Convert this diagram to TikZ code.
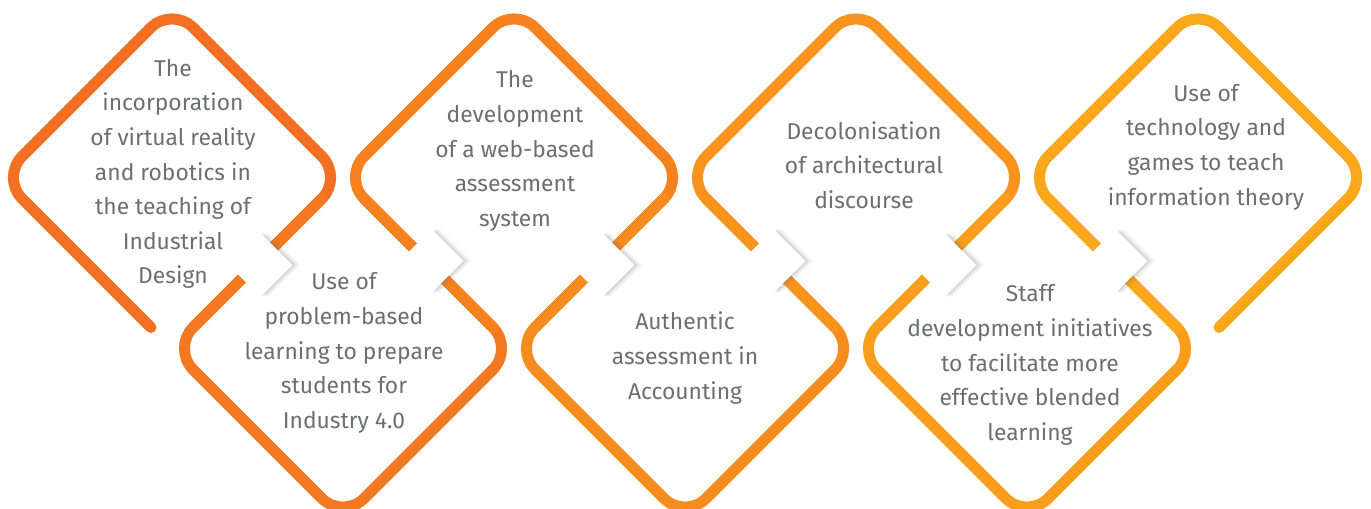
\documentclass[tikz,border=0pt]{standalone}
\usepackage{fontspec}
\setmainfont{Fira Sans}
\usetikzlibrary{positioning, shadows, shapes.geometric, calc}
\definecolor{leftorange}{HTML}{F26522}
\definecolor{rightorange}{HTML}{FBB11A}
\definecolor{topicgrey}{HTML}{6D6E71}
\colorlet{ring1}{rightorange!13!leftorange}
\colorlet{ring2}{rightorange!25!leftorange}
\colorlet{ring3}{rightorange!37!leftorange}
\colorlet{ring4}{rightorange!50!leftorange}
\colorlet{ring5}{rightorange!62!leftorange}
\colorlet{ring6}{rightorange!75!leftorange}
\colorlet{ring7}{rightorange!87!leftorange}
\newcommand{\TopRing}[2]{%
  \draw[ring, draw=#2] ($(#1)+(-21,150)$) -- ($(#1)+(-171,0)$) -- ($(#1)+(0,-171)$) -- ($(#1)+(171,0)$) -- ($(#1)+(21,150)$);}
\newcommand{\LowRing}[2]{%
  \draw[ring, draw=#2] ($(#1)+(21,-150)$) -- ($(#1)+(171,0)$) -- ($(#1)+(0,171)$) -- ($(#1)+(-171,0)$) -- ($(#1)+(-21,-150)$);}
\tikzset{
    ring/.style={line width=0.22cm, line cap=round, rounded corners=0.6cm},
    topic/.style={align=center, text=topicgrey, font=\fontsize{13}{19.7}\selectfont},
    link/.style={diamond, fill=white, minimum width=1.28cm, minimum height=1.28cm, inner sep=0pt,
        drop shadow={shadow xshift=0.16cm, shadow yshift=0cm, opacity=0.06, fill=black!60},
        drop shadow={shadow xshift=0.11cm, shadow yshift=0cm, opacity=0.09, fill=black!60},
        drop shadow={shadow xshift=0.06cm, shadow yshift=0cm, opacity=0.12, fill=black!60}},
}

\begin{document}
\begin{tikzpicture}[x=0.02cm, y=-0.02cm]
    \useasboundingbox (0,0) rectangle (1371,509);
    \clip (0,0) rectangle (1371,509);

    \foreach \n/\cx/\cy in {1/172/177.5, 2/343/348.5, 3/514/177.5, 4/685/348.5,
                            5/856/177.5, 6/1027/348.5, 7/1198/177.5}
        \coordinate (c\n) at (\cx,\cy);

    % rings, top ones open at the bottom, lower ones open at the top
    \TopRing{c1}{ring1}
    \LowRing{c2}{ring2}
    \TopRing{c3}{ring3}
    \LowRing{c4}{ring4}
    \TopRing{c5}{ring5}
    \LowRing{c6}{ring6}
    \TopRing{c7}{ring7}

    % white links over the shared edges
    \node[link] (l12) at ($(c1)!0.5!(c2)+(3,2)$) {};
    \node[link] (l23) at ($(c2)!0.5!(c3)+(3,-2)$) {};
    \node[link] (l34) at ($(c3)!0.5!(c4)+(3,2)$) {};
    \node[link] (l45) at ($(c4)!0.5!(c5)+(3,-2)$) {};
    \node[link] (l56) at ($(c5)!0.5!(c6)+(3,2)$) {};
    \node[link] (l67) at ($(c6)!0.5!(c7)+(3,-2)$) {};

    \node[topic] (t1) at (173,174) {The\\incorporation\\of virtual reality\\and robotics in\\the teaching of\\Industrial\\Design};
    \node[topic] (t2) at (344,353) {Use of\\problem-based\\learning to prepare\\students for\\Industry 4.0};
    \node[topic] (t3) at (515,151) {The\\development\\of a web-based\\assessment\\system};
    \node[topic] (t4) at (685,358) {Authentic\\assessment in\\Accounting};
    \node[topic] (t5) at (864,165) {Decolonisation\\of architectural\\discourse};
    \node[topic] (t6) at (1030,365) {Staff\\development initiatives\\to facilitate more\\effective blended\\learning};
    \node[topic] (t7) at (1206,147) {Use of\\technology and\\games to teach\\information theory};
\end{tikzpicture}
\end{document}
